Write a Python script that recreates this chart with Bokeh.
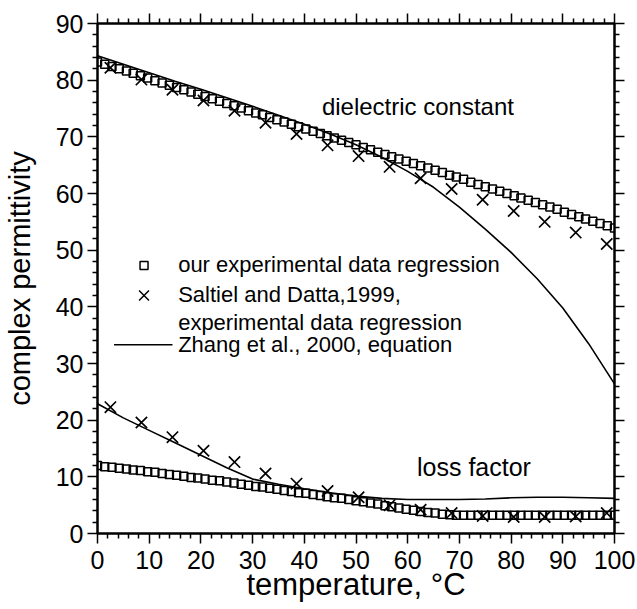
from bokeh.plotting import figure
from bokeh.models import Range1d, LinearAxis, Label, FixedTicker
from bokeh.embed import file_html
from bokeh.resources import INLINE

# ---------------- data ----------------
# our experimental data regression (squares)
sq_temp = [0.0, 1.4, 2.8, 4.2, 5.6, 6.9, 8.3, 9.7, 11.1, 12.5, 13.9, 15.3, 16.7, 18.1,
           19.4, 20.8, 22.2, 23.6, 25.0, 26.4, 27.8, 29.2, 30.6, 31.9, 33.3, 34.7, 36.1,
           37.5, 38.9, 40.3, 41.7, 43.1, 44.4, 45.8, 47.2, 48.6, 50.0, 51.4, 52.8, 54.2,
           55.6, 56.9, 58.3, 59.7, 61.1, 62.5, 63.9, 65.3, 66.7, 68.1, 69.4, 70.8, 72.2,
           73.6, 75.0, 76.4, 77.8, 79.2, 80.6, 81.9, 83.3, 84.7, 86.1, 87.5, 88.9, 90.3,
           91.7, 93.1, 94.4, 95.8, 97.2, 98.6, 100.0]
sq_dielectric = [83.2, 82.8, 82.4, 82.0, 81.6, 81.2, 80.8, 80.4, 79.9, 79.5, 79.1, 78.7,
                 78.3, 77.9, 77.5, 77.1, 76.7, 76.3, 75.9, 75.5, 75.1, 74.6, 74.2, 73.9,
                 73.4, 73.0, 72.6, 72.2, 71.8, 71.4, 71.0, 70.6, 70.2, 69.8, 69.4, 69.0,
                 68.6, 68.1, 67.7, 67.3, 66.9, 66.5, 66.1, 65.7, 65.3, 64.9, 64.5, 64.1,
                 63.7, 63.2, 62.9, 62.5, 62.0, 61.6, 61.2, 60.8, 60.4, 60.0, 59.6, 59.2,
                 58.8, 58.4, 58.0, 57.6, 57.2, 56.7, 56.3, 55.9, 55.5, 55.1, 54.7, 54.3, 53.9]
sq_loss = [12.0, 11.8, 11.7, 11.5, 11.4, 11.2, 11.1, 10.9, 10.8, 10.6, 10.4, 10.3, 10.1,
           9.9, 9.8, 9.6, 9.4, 9.3, 9.1, 8.9, 8.7, 8.5, 8.3, 8.2, 8.0, 7.8, 7.6, 7.4, 7.2,
           7.1, 6.9, 6.7, 6.5, 6.3, 6.2, 6.0, 5.8, 5.6, 5.4, 5.2, 4.9, 4.7, 4.5, 4.3, 4.1,
           3.9, 3.7, 3.6, 3.4, 3.3, 3.2, 3.2, 3.2, 3.2, 3.2, 3.2, 3.2, 3.2, 3.2, 3.2, 3.2,
           3.2, 3.2, 3.2, 3.2, 3.2, 3.2, 3.2, 3.2, 3.2, 3.2, 3.2, 3.2]

# Saltiel and Datta, 1999 (crosses)
sd_temp = [2.5, 8.5, 14.5, 20.5, 26.5, 32.5, 38.5, 44.5, 50.5, 56.5, 62.5, 68.5, 74.5,
           80.5, 86.5, 92.5, 98.5]
sd_dielectric = [82.2, 80.1, 78.3, 76.4, 74.6, 72.5, 70.5, 68.5, 66.6, 64.7, 62.7, 60.8,
                 58.9, 56.9, 55.0, 53.1, 51.1]
sd_loss = [22.3, 19.6, 17.0, 14.6, 12.6, 10.6, 8.8, 7.5, 6.4, 5.0, 4.2, 3.6, 3.1, 2.9,
           2.9, 3.0, 3.6]

# Zhang et al., 2000, equation (solid lines)
zh_temp = [0, 5, 10, 15, 20, 25, 30, 35, 40, 45, 50, 55, 60, 65, 70, 75, 80, 85, 90, 95, 100]
zh_dielectric = [84.3, 82.8, 81.3, 79.8, 78.4, 76.9, 75.4, 73.8, 72.2, 70.5, 68.6, 66.4,
                 63.9, 61.1, 57.6, 53.7, 49.6, 45.0, 39.8, 33.5, 26.4]
zh_loss = [22.9, 20.4, 18.2, 16.0, 13.8, 11.6, 9.6, 8.7, 7.9, 7.2, 6.6, 6.2, 6.0, 6.0,
           6.0, 6.1, 6.3, 6.4, 6.4, 6.3, 6.2]

x_ticks = [0, 10, 20, 30, 40, 50, 60, 70, 80, 90, 100]
y_ticks = [0, 10, 20, 30, 40, 50, 60, 70, 80, 90]
x_minor = [2, 4, 6, 8, 12, 14, 16, 18, 22, 24, 26, 28, 32, 34, 36, 38, 42, 44, 46, 48,
           52, 54, 56, 58, 62, 64, 66, 68, 72, 74, 76, 78, 82, 84, 86, 88, 92, 94, 96, 98]
y_minor = [2, 4, 6, 8, 12, 14, 16, 18, 22, 24, 26, 28, 32, 34, 36, 38, 42, 44, 46, 48,
           52, 54, 56, 58, 62, 64, 66, 68, 72, 74, 76, 78, 82, 84, 86, 88]

FONT = "Liberation Sans"

p = figure(width=637, height=609, output_backend="svg", toolbar_location=None,
           x_range=Range1d(0, 100), y_range=Range1d(0, 90),
           min_border_left=97, min_border_right=23, min_border_top=23,
           min_border_bottom=76, x_axis_location=None, y_axis_location=None)
p.grid.visible = False
p.outline_line_color = "black"
p.outline_line_width = 2
p.background_fill_color = "white"
p.border_fill_color = "white"


def style_axis(ax, ticks, minor, labels=True, standoff=4):
    ax.ticker = FixedTicker(ticks=ticks, minor_ticks=minor)
    ax.axis_line_color = "black"
    ax.axis_line_width = 2
    ax.major_tick_line_color = "black"
    ax.major_tick_line_width = 1.5
    ax.minor_tick_line_color = "black"
    ax.minor_tick_line_width = 1.5
    ax.major_tick_in = 0
    ax.major_tick_out = 10
    ax.minor_tick_in = 0
    ax.minor_tick_out = 5
    if labels:
        ax.major_label_text_font = FONT
        ax.major_label_text_font_size = "25px"
        ax.major_label_text_color = "black"
        ax.major_label_standoff = standoff
        ax.axis_label_text_font = FONT
        ax.axis_label_text_font_style = "normal"
        ax.axis_label_text_color = "black"
    else:
        ax.major_label_text_font_size = "0px"
        ax.major_label_text_color = None
        ax.major_label_standoff = 0


bottom = LinearAxis(axis_label="temperature, °C")
style_axis(bottom, x_ticks, x_minor, standoff=7)
bottom.axis_label_text_font_size = "31px"
bottom.axis_label_standoff = -5
p.add_layout(bottom, "below")

left = LinearAxis(axis_label="complex permittivity")
style_axis(left, y_ticks, y_minor, standoff=4)
left.axis_label_text_font_size = "29px"
left.axis_label_standoff = 17
p.add_layout(left, "left")

top = LinearAxis()
style_axis(top, x_ticks, x_minor, labels=False)
p.add_layout(top, "above")
right = LinearAxis()
style_axis(right, y_ticks, y_minor, labels=False)
p.add_layout(right, "right")

# curves
p.line(zh_temp, zh_dielectric, line_color="black", line_width=1.6)
p.line(zh_temp, zh_loss, line_color="black", line_width=1.6)

# squares
p.scatter(sq_temp, sq_dielectric, marker="square", size=8, fill_color=None,
          line_color="black", line_width=1.5)
p.scatter(sq_temp, sq_loss, marker="square", size=8, fill_color=None,
          line_color="black", line_width=1.5)

# crosses
p.scatter(sd_temp, sd_dielectric, marker="x", size=16, line_color="black", line_width=1.7)
p.scatter(sd_temp, sd_loss, marker="x", size=16, line_color="black", line_width=1.7)

# legend (manual)
p.scatter([9.0], [47.3], marker="square", size=8, fill_color=None,
          line_color="black", line_width=1.5)
p.scatter([9.0], [42.0], marker="x", size=14, line_color="black", line_width=1.5)
p.line([3.2, 14.5], [33.3, 33.3], line_color="black", line_width=1.6)


def add_text(x, y, text, size):
    lab = Label(x=x, y=y, text=text, text_font=FONT, text_font_size=size,
                text_color="black", text_baseline="alphabetic", text_align="left")
    p.add_layout(lab)


add_text(15.6, 47.5, "our experimental data regression", "22px")
add_text(15.6, 42.2, "Saltiel and Datta,1999,", "22px")
add_text(15.6, 37.3, "experimental data regression", "22px")
add_text(15.6, 33.4, "Zhang et al., 2000, equation", "22px")

add_text(43.4, 75.4, "dielectric constant", "24px")
add_text(61.8, 11.8, "loss factor", "25px")

open("out.html", "w").write(file_html(p, INLINE))
